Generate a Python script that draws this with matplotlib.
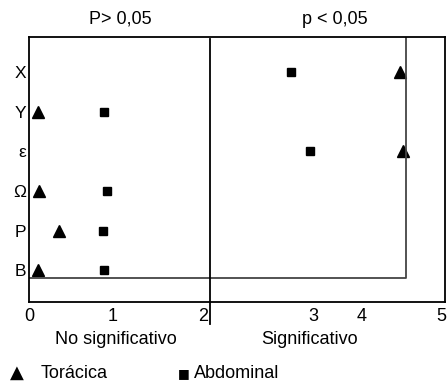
import matplotlib
matplotlib.use("Agg")
import matplotlib.pyplot as plt
from matplotlib import font_manager

# rows from bottom to top
row_labels = ["B", "P", "Ω", "ε", "Y", "X"]
toracica = [0.11, 0.36, 0.12, 4.50, 0.11, 4.46]
abdominal = [0.90, 0.89, 0.94, 3.38, 0.90, 3.15]

# axis ticks as printed (scale in original is uneven)
tick_pos = [0.0, 1.01, 2.09, 3.42, 4.0, 4.96]
tick_labels = ["0", "1", "2", "3", "4", "5"]

names = {f.name for f in font_manager.fontManager.ttflist}
fam = ["Liberation Sans Narrow", "DejaVu Sans"] if "Liberation Sans Narrow" in names else ["Liberation Sans", "DejaVu Sans"]
plt.rcParams["font.family"] = fam

fig = plt.figure(figsize=(4.47, 3.82), dpi=100)
ax = fig.add_axes([0.065, 0.209, 0.9305, 0.694])
ax.set_xlim(0, 5)
ax.set_ylim(-0.8, 5.88)

ys = list(range(len(row_labels)))
ax.plot(toracica, ys, "^", color="black", markersize=9, clip_on=False)
ax.plot(abdominal, ys, "s", color="black", markersize=6, clip_on=False)

# inner box and separating line
ax.plot([0, 4.53, 4.53], [-0.2, -0.2, 5.88], color="#444444", lw=1.3)
ax.plot([2.175, 2.175], [5.82, -1.34], color="black", lw=1.3, clip_on=False)

ax.set_yticks(ys)
ax.set_yticklabels(row_labels, fontsize=12.5)
ax.set_xticks(tick_pos)
ax.set_xticklabels(tick_labels, fontsize=13)
ax.tick_params(length=0, pad=2)
ax.tick_params(axis="x", pad=4)
for s in ax.spines.values():
    s.set_linewidth(1.3)

fig.text(120 / 447, 1 - 19 / 382, "P> 0,05", ha="center", va="center", fontsize=13)
fig.text(335 / 447, 1 - 19 / 382, "p < 0,05", ha="center", va="center", fontsize=13)
fig.text(116 / 447, 1 - 339 / 382, "No significativo", ha="center", va="center", fontsize=13)
fig.text(310 / 447, 1 - 339 / 382, "Significativo", ha="center", va="center", fontsize=13)

# legend drawn by hand
fig.text(10 / 447, 1 - 373 / 382, "▲", ha="left", va="center", fontsize=13, family="DejaVu Sans")
fig.text(41 / 447, 1 - 373 / 382, "Torácica", ha="left", va="center", fontsize=13)
fig.text(178 / 447, 1 - 374 / 382, "■", ha="left", va="center", fontsize=9, family="DejaVu Sans")
fig.text(194 / 447, 1 - 373 / 382, "Abdominal", ha="left", va="center", fontsize=13)

fig.savefig("out.png", dpi=100)
